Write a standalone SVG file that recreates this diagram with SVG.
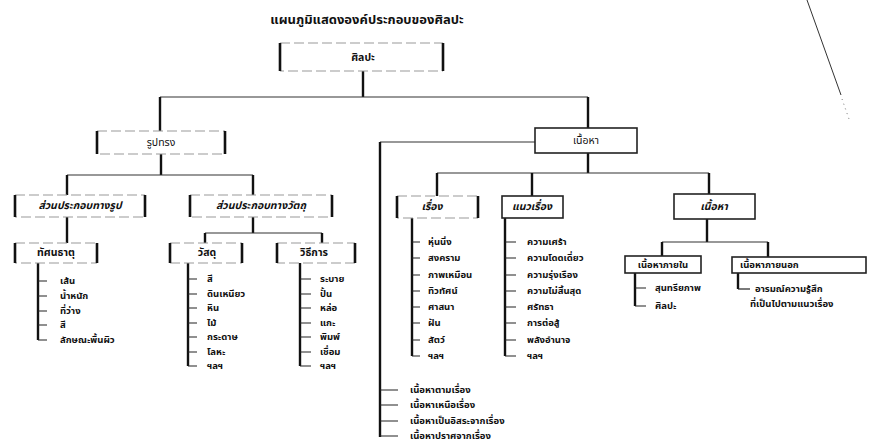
<svg xmlns="http://www.w3.org/2000/svg" width="870" height="444" viewBox="0 0 870 444">
<style>
text{font-family:"Noto Sans Thai","Noto Sans","DejaVu Sans",sans-serif;font-size:9.5px;fill:#111;dominant-baseline:central}
.t{font-size:13px;font-weight:bold}
.lb{text-anchor:middle;font-size:10.5px}
.it{font-style:italic;font-weight:bold}
.b{font-weight:bold}
.box{fill:#fff;stroke:#222;stroke-width:1.6}
.brk{fill:#fff;stroke:#999;stroke-width:1;stroke-dasharray:10 4}
.side{stroke:#111;stroke-width:2.6}
.v{stroke:#111;stroke-width:2.4;fill:none}
.h{stroke:#333;stroke-width:1.2;fill:none}
.tk{stroke:#222;stroke-width:1.2}
</style>
<rect width="870" height="444" fill="#fff"/>
<text class="t" x="367" y="20" text-anchor="middle">แผนภูมิแสดงองค์ประกอบของศิลปะ</text>
<line x1="807" y1="0" x2="841" y2="95" stroke="#333" stroke-width="1"/>
<line x1="842" y1="99" x2="849" y2="119" stroke="#777" stroke-width="1" stroke-dasharray="1 4"/>

<g id="connectors">
<path class="v" d="M363 71V97"/>
<path class="h" d="M160 97H588"/>
<path class="v" d="M160 97V131M588 97V128"/>
<path class="v" d="M161 154V175"/>
<path class="h" d="M67 175H253"/>
<path class="v" d="M67 175V195M253 175V195"/>
<path class="v" d="M67 217V243"/>
<path class="v" d="M38 263V340"/>
<path class="tk" d="M38 281H47M38 296H47M38 311H47M38 325H47M38 340H47"/>
<path class="v" d="M253 217V233"/>
<path class="h" d="M205 233H322"/>
<path class="v" d="M205 233V243M322 233V243"/>
<path class="v" d="M188 263V366"/>
<path class="tk" d="M188 279H197M188 294H197M188 308H197M188 323H197M188 337H197M188 352H197M188 366H197"/>
<path class="v" d="M300 263V366"/>
<path class="tk" d="M300 279H311M300 294H311M300 308H311M300 323H311M300 337H311M300 352H311M300 366H311"/>
<path class="h" d="M535 142H380"/>
<path class="v" d="M380 142V437"/>
<path class="tk" d="M380 390H398M380 405H398M380 421H398M380 436H398"/>
<path class="v" d="M588 153V173"/>
<path class="h" d="M437 173H709"/>
<path class="v" d="M437 173V196M532 173V196M709 173V194"/>
<path class="v" d="M412 218V356"/>
<path class="tk" d="M412 242H420M412 258H420M412 275H420M412 291H420M412 307H420M412 323H420M412 340H420M412 356H420"/>
<path class="v" d="M505 218V356"/>
<path class="tk" d="M505 242H516M505 258H516M505 275H516M505 291H516M505 307H516M505 323H516M505 340H516M505 356H516"/>
<path class="v" d="M707 219V242"/>
<path class="h" d="M662 242H768"/>
<path class="v" d="M662 242V256M768 242V257"/>
<path class="v" d="M635 273V306"/>
<path class="tk" d="M635 288H646M635 306H646"/>
<path class="v" d="M738 273V289"/>
<path class="tk" d="M738 289H750"/>
</g>

<g id="n-art"><rect class="brk" x="280" y="43" width="163" height="28"/><path class="side" d="M280 43V71M443 43V71"/><text class="lb b" x="363" y="58">ศิลปะ</text></g>
<g id="n-form"><rect class="brk" x="97" y="131" width="128" height="23"/><path class="side" d="M97 131V154M225 131V154"/><text class="lb" x="161" y="143">รูปทรง</text></g>
<g id="n-formpart"><rect class="brk" x="15" y="195" width="130" height="22"/><path class="side" d="M15 195V217M145 195V217"/><text class="lb it" x="80" y="206">ส่วนประกอบทางรูป</text></g>
<g id="n-matpart"><rect class="brk" x="190" y="195" width="142" height="22"/><path class="side" d="M190 195V217M332 195V217"/><text class="lb it" x="261" y="206">ส่วนประกอบทางวัตถุ</text></g>
<g id="n-visual"><rect class="brk" x="15" y="243" width="82" height="20"/><path class="side" d="M15 243V263M97 243V263"/><text class="lb b" x="56" y="253">ทัศนธาตุ</text></g>
<g id="n-visual-items"><text class="b" x="60" y="281">เส้น</text><text class="b" x="60" y="296">น้ำหนัก</text><text class="b" x="60" y="311">ที่ว่าง</text><text class="b" x="60" y="325">สี</text><text class="b" x="60" y="340">ลักษณะพื้นผิว</text></g>
<g id="n-material"><rect class="brk" x="170" y="243" width="72" height="20"/><path class="side" d="M170 243V263M242 243V263"/><text class="lb b" x="207" y="253">วัสดุ</text></g>
<g id="n-material-items"><text class="b" x="207" y="279">สี</text><text class="b" x="207" y="294">ดินเหนียว</text><text class="b" x="207" y="308">หิน</text><text class="b" x="207" y="323">ไม้</text><text class="b" x="207" y="337">กระดาษ</text><text class="b" x="207" y="352">โลหะ</text><text class="b" x="207" y="366">ฯลฯ</text></g>
<g id="n-method"><rect class="brk" x="277" y="243" width="78" height="20"/><path class="side" d="M277 243V263M355 243V263"/><text class="lb b" x="314" y="253">วิธีการ</text></g>
<g id="n-method-items"><text class="b" x="320" y="279">ระบาย</text><text class="b" x="320" y="294">ปั้น</text><text class="b" x="320" y="308">หล่อ</text><text class="b" x="320" y="323">แกะ</text><text class="b" x="320" y="337">พิมพ์</text><text class="b" x="320" y="352">เชื่อม</text><text class="b" x="320" y="366">ฯลฯ</text></g>
<g id="n-content"><rect class="box" x="535" y="128" width="102" height="25"/><text class="lb" x="586" y="141">เนื้อหา</text></g>
<g id="n-subject"><rect class="brk" x="397" y="196" width="81" height="22"/><path class="side" d="M397 196V218M478 196V218"/><text class="lb it" x="432" y="207">เรื่อง</text></g>
<g id="n-subject-items"><text class="b" x="428" y="242">หุ่นนิ่ง</text><text class="b" x="428" y="258">สงคราม</text><text class="b" x="428" y="275">ภาพเหมือน</text><text class="b" x="428" y="291">ทิวทัศน์</text><text class="b" x="428" y="307">ศาสนา</text><text class="b" x="428" y="323">ฝัน</text><text class="b" x="428" y="340">สัตว์</text><text class="b" x="428" y="356">ฯลฯ</text></g>
<g id="n-theme"><rect class="box" x="502" y="196" width="61" height="22"/><text class="lb it" x="532" y="207">แนวเรื่อง</text></g>
<g id="n-theme-items"><text class="b" x="527" y="242">ความเศร้า</text><text class="b" x="527" y="258">ความโดดเดี่ยว</text><text class="b" x="527" y="275">ความรุ่งเรือง</text><text class="b" x="527" y="291">ความไม่สิ้นสุด</text><text class="b" x="527" y="307">ศรัทธา</text><text class="b" x="527" y="323">การต่อสู้</text><text class="b" x="527" y="340">พลังอำนาจ</text><text class="b" x="527" y="356">ฯลฯ</text></g>
<g id="n-content2"><rect class="box" x="674" y="194" width="81" height="25"/><text class="lb it" x="714" y="207">เนื้อหา</text></g>
<g id="n-inner"><rect class="box" x="625" y="256" width="76" height="17"/><text class="lb b" x="663" y="265" style="font-size:9.5px">เนื้อหาภายใน</text></g>
<g id="n-inner-items"><text class="b" x="655" y="288">สุนทรียภาพ</text><text class="b" x="655" y="306">ศิลปะ</text></g>
<g id="n-outer"><rect class="box" x="732" y="257" width="134" height="16"/><text class="b" x="740" y="265">เนื้อหาภายนอก</text></g>
<g id="n-outer-items"><text class="b" x="755" y="289">อารมณ์ความรู้สึก</text><text class="b" x="750" y="304">ที่เป็นไปตามแนวเรื่อง</text></g>
<g id="n-relations"><text class="b" x="410" y="390">เนื้อหาตามเรื่อง</text><text class="b" x="410" y="405">เนื้อหาเหนือเรื่อง</text><text class="b" x="410" y="421">เนื้อหาเป็นอิสระจากเรื่อง</text><text class="b" x="410" y="436">เนื้อหาปราศจากเรื่อง</text></g>
</svg>
